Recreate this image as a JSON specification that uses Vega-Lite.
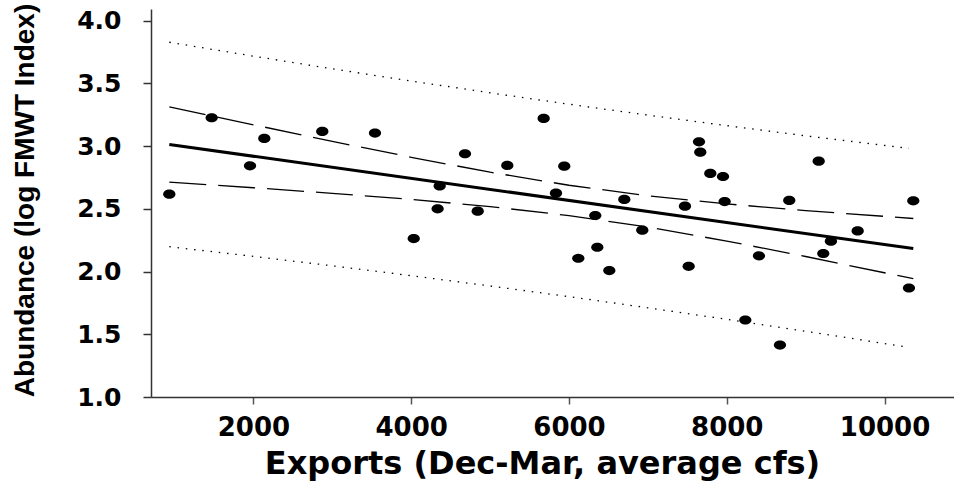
{
  "$schema": "https://vega.github.io/schema/vega-lite/v6.json",
  "width": 803,
  "height": 388,
  "autosize": {"type": "none"},
  "padding": {"left": 151, "top": 9, "right": 0, "bottom": 94},
  "background": "white",
  "config": {"view": {"stroke": null}},
  "datasets": {
    "points": [
      {"x": 934, "y": 2.617}, {"x": 1471, "y": 3.226}, {"x": 1957, "y": 2.843}, {"x": 2138, "y": 3.061},
      {"x": 2873, "y": 3.117}, {"x": 3541, "y": 3.104}, {"x": 4032, "y": 2.263}, {"x": 4335, "y": 2.5},
      {"x": 4361, "y": 2.683}, {"x": 4682, "y": 2.939}, {"x": 4843, "y": 2.481}, {"x": 5218, "y": 2.846},
      {"x": 5679, "y": 3.221}, {"x": 5835, "y": 2.625}, {"x": 5940, "y": 2.84}, {"x": 6118, "y": 2.106},
      {"x": 6333, "y": 2.447}, {"x": 6359, "y": 2.194}, {"x": 6511, "y": 2.008}, {"x": 6701, "y": 2.575},
      {"x": 6929, "y": 2.33}, {"x": 7470, "y": 2.521}, {"x": 7517, "y": 2.042}, {"x": 7648, "y": 3.034},
      {"x": 7664, "y": 2.952}, {"x": 7791, "y": 2.782}, {"x": 7952, "y": 2.758}, {"x": 7973, "y": 2.558},
      {"x": 8235, "y": 1.614}, {"x": 8408, "y": 2.125}, {"x": 8674, "y": 1.414}, {"x": 8792, "y": 2.567},
      {"x": 9165, "y": 2.88}, {"x": 9223, "y": 2.144}, {"x": 9320, "y": 2.242}, {"x": 9659, "y": 2.324},
      {"x": 10309, "y": 1.869}, {"x": 10364, "y": 2.564}
    ],
    "fit": [
      {"x": 934, "y": 3.013}, {"x": 10364, "y": 2.183}
    ],
    "bands": [
      {"band": "ci", "side": "upper", "x": 934, "y": 3.313},
      {"band": "ci", "side": "upper", "x": 2000, "y": 3.17},
      {"band": "ci", "side": "upper", "x": 3000, "y": 3.038},
      {"band": "ci", "side": "upper", "x": 4000, "y": 2.911},
      {"band": "ci", "side": "upper", "x": 5000, "y": 2.792},
      {"band": "ci", "side": "upper", "x": 6000, "y": 2.688},
      {"band": "ci", "side": "upper", "x": 7000, "y": 2.604},
      {"band": "ci", "side": "upper", "x": 8000, "y": 2.539},
      {"band": "ci", "side": "upper", "x": 9000, "y": 2.486},
      {"band": "ci", "side": "upper", "x": 10364, "y": 2.423},
      {"band": "ci", "side": "lower", "x": 934, "y": 2.713},
      {"band": "ci", "side": "lower", "x": 2000, "y": 2.668},
      {"band": "ci", "side": "lower", "x": 3000, "y": 2.624},
      {"band": "ci", "side": "lower", "x": 4000, "y": 2.575},
      {"band": "ci", "side": "lower", "x": 5000, "y": 2.518},
      {"band": "ci", "side": "lower", "x": 6000, "y": 2.446},
      {"band": "ci", "side": "lower", "x": 7000, "y": 2.354},
      {"band": "ci", "side": "lower", "x": 8000, "y": 2.243},
      {"band": "ci", "side": "lower", "x": 9000, "y": 2.12},
      {"band": "ci", "side": "lower", "x": 10364, "y": 1.943},
      {"band": "pi", "side": "upper", "x": 934, "y": 3.828},
      {"band": "pi", "side": "upper", "x": 2000, "y": 3.717},
      {"band": "pi", "side": "upper", "x": 3000, "y": 3.616},
      {"band": "pi", "side": "upper", "x": 4000, "y": 3.519},
      {"band": "pi", "side": "upper", "x": 5000, "y": 3.425},
      {"band": "pi", "side": "upper", "x": 6000, "y": 3.334},
      {"band": "pi", "side": "upper", "x": 7000, "y": 3.247},
      {"band": "pi", "side": "upper", "x": 8000, "y": 3.163},
      {"band": "pi", "side": "upper", "x": 9000, "y": 3.082},
      {"band": "pi", "side": "upper", "x": 10309, "y": 2.982},
      {"band": "pi", "side": "lower", "x": 934, "y": 2.198},
      {"band": "pi", "side": "lower", "x": 2000, "y": 2.121},
      {"band": "pi", "side": "lower", "x": 3000, "y": 2.046},
      {"band": "pi", "side": "lower", "x": 4000, "y": 1.967},
      {"band": "pi", "side": "lower", "x": 5000, "y": 1.885},
      {"band": "pi", "side": "lower", "x": 6000, "y": 1.8},
      {"band": "pi", "side": "lower", "x": 7000, "y": 1.711},
      {"band": "pi", "side": "lower", "x": 8000, "y": 1.619},
      {"band": "pi", "side": "lower", "x": 9000, "y": 1.524},
      {"band": "pi", "side": "lower", "x": 10309, "y": 1.396}
    ]
  },
  "layer": [
    {
      "data": {"name": "points"},
      "mark": {"type": "point", "filled": true, "color": "black", "opacity": 1, "size": 150,
               "shape": "M-1,0A1,0.75,0,1,0,1,0A1,0.75,0,1,0,-1,0Z"},
      "encoding": {
        "x": {
          "field": "x", "type": "quantitative",
          "scale": {"domain": [702, 10880], "nice": false, "zero": false},
          "axis": {
            "orient": "bottom",
            "values": [2000, 4000, 6000, 8000, 10000],
            "format": "d",
            "grid": false,
            "domainColor": "#333", "domainWidth": 1.5,
            "tickColor": "#555", "tickWidth": 1.5, "tickSize": 7,
            "labelFont": "DejaVu Sans", "labelFontWeight": "bold", "labelFontSize": 26,
            "labelColor": "black", "labelPadding": 10,
            "title": "Exports (Dec-Mar, average cfs)",
            "titleFont": "DejaVu Sans", "titleFontWeight": "bold", "titleFontSize": 32,
            "titleColor": "black", "titleBaseline": "alphabetic",
            "titleX": 391, "titleY": 76, "titleAnchor": "middle", "titleAlign": "center"
          }
        },
        "y": {
          "field": "y", "type": "quantitative",
          "scale": {"domain": [1.0, 4.093], "nice": false, "zero": false},
          "axis": {
            "orient": "left",
            "values": [1.0, 1.5, 2.0, 2.5, 3.0, 3.5, 4.0],
            "format": ".1f",
            "grid": false,
            "domainColor": "#333", "domainWidth": 1.5,
            "tickColor": "#333", "tickWidth": 1.5, "tickSize": 8,
            "labelFont": "DejaVu Sans", "labelFontWeight": "bold", "labelFontSize": 25,
            "labelColor": "black", "labelPadding": 22,
            "title": "Abundance (log FMWT Index)",
            "titleFont": "Liberation Sans", "titleFontWeight": "bold", "titleFontSize": 28,
            "titleColor": "black", "titleAngle": 270, "titleBaseline": "alphabetic",
            "titleAlign": "center", "titleX": -118, "titleY": 191
          }
        }
      }
    },
    {
      "mark": {"type": "rule", "color": "#999", "strokeWidth": 2},
      "encoding": {
        "y": {"datum": 4.093, "type": "quantitative"}
      }
    },
    {
      "data": {"name": "fit"},
      "mark": {"type": "line", "color": "black", "strokeWidth": 3},
      "encoding": {
        "x": {"field": "x", "type": "quantitative"},
        "y": {"field": "y", "type": "quantitative"}
      }
    },
    {
      "data": {"name": "bands"},
      "transform": [{"filter": "datum.band === 'ci'"}],
      "mark": {"type": "line", "color": "black", "strokeWidth": 1.3, "strokeDash": [37, 12]},
      "encoding": {
        "x": {"field": "x", "type": "quantitative"},
        "y": {"field": "y", "type": "quantitative"},
        "detail": {"field": "side"}
      }
    },
    {
      "data": {"name": "bands"},
      "transform": [{"filter": "datum.band === 'pi'"}],
      "mark": {"type": "line", "color": "black", "strokeWidth": 1.3, "strokeDash": [1.5, 6.8]},
      "encoding": {
        "x": {"field": "x", "type": "quantitative"},
        "y": {"field": "y", "type": "quantitative"},
        "detail": {"field": "side"}
      }
    }
  ]
}
